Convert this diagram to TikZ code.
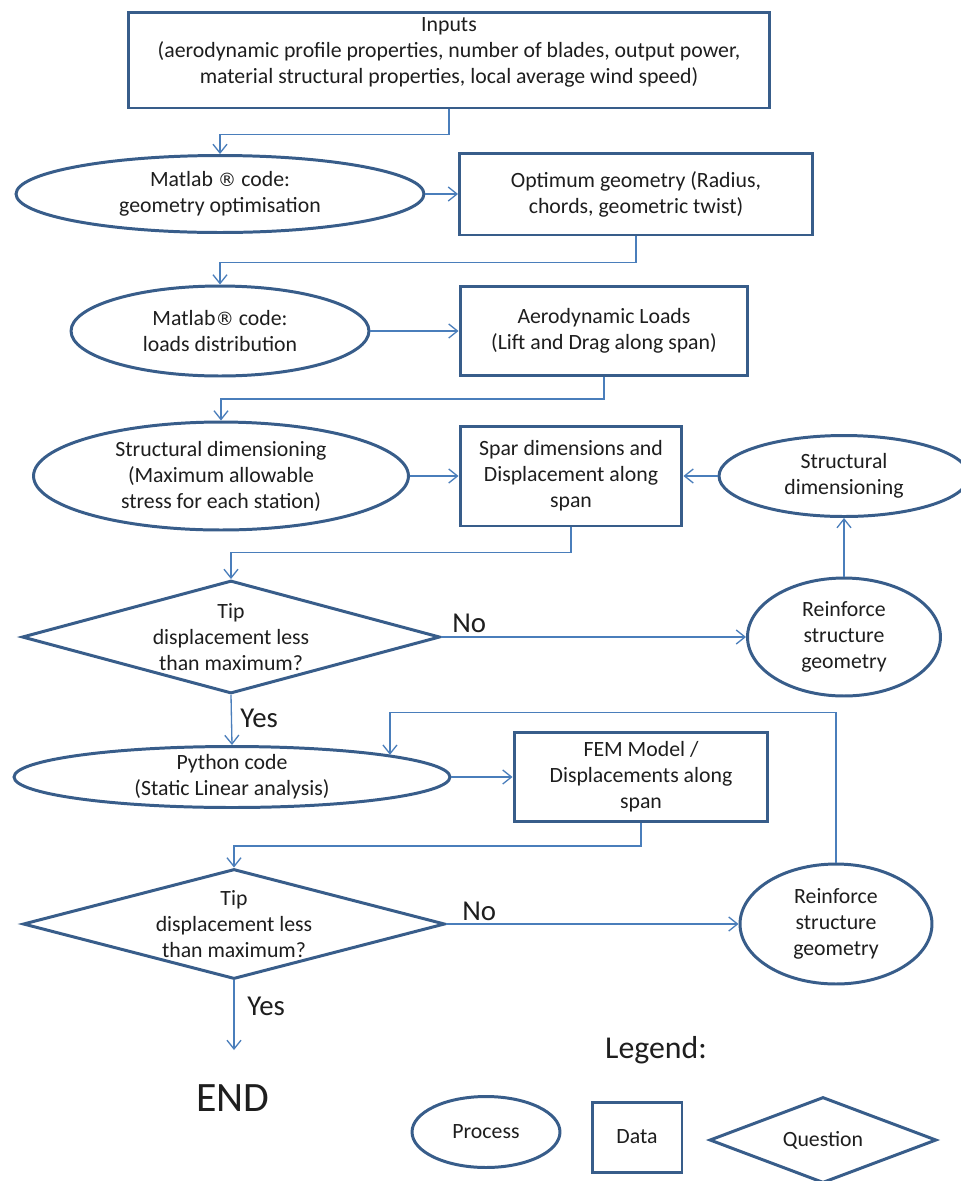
\documentclass[tikz,border=0pt]{standalone}
\usepackage{fontspec}
\setmainfont{Carlito}
\newfontfamily\symbfont{DejaVu Sans}
\usetikzlibrary{shapes.geometric,arrows.meta}
\definecolor{bordure}{HTML}{385D8A}
\definecolor{fleche}{HTML}{4A7EBB}
\definecolor{texte}{HTML}{1E1E1E}
\newcommand{\marque}{{\symbfont\fontsize{10.5}{14.8}\selectfont ®}}
\tikzset{
  boite/.style={draw=bordure,line width=1.7pt,text=texte,align=center,inner sep=0pt,
    font=\fontsize{12.4}{14.8}\selectfont},
  process/.style={boite,ellipse},
  data/.style={boite,rectangle},
  question/.style={boite,diamond,aspect=3.7,inner ysep=-3pt},
  flow/.style={draw=fleche,line width=0.75pt,-{Straight Barb[length=5pt,width=8pt]}},
  answer/.style={text=texte,inner sep=0pt,font=\fontsize{16.4}{18}\selectfont}
}

\begin{document}
\begin{tikzpicture}[x=0.02cm,y=-0.02cm]
   \fill[white] (0,0) rectangle (961,1181);
   \useasboundingbox (0,0) rectangle (961,1181);
   % colonne de gauche
   \node[data,minimum width=12.84cm,minimum height=1.92cm,text depth=11pt] (inputs) at (449,60)
     {Inputs\\(aerodynamic profile properties, number of blades, output power,\\material structural properties, local average wind speed)};
   \node[process,minimum width=8.16cm,minimum height=1.54cm] (geomopt) at (220,194)
     {Matlab \marque{} code:\\geometry optimisation};
   \node[process,minimum width=5.96cm,minimum height=1.80cm] (loadsdist) at (220,331)
     {Matlab\marque{} code:\\loads distribution};
   \node[process,minimum width=7.50cm,minimum height=2.16cm] (structdim) at (221,476)
     {Structural dimensioning\\(Maximum allowable\\stress for each station)};
   \node[question,minimum width=8.36cm,minimum height=2.26cm] (tipa) at (231,637)
     {Tip\\displacement less\\than maximum?};
   \node[process,minimum width=8.72cm,minimum height=1.22cm,inner ysep=-2pt] (python) at (232,777)
     {Python code\\(Static Linear analysis)};
   \node[question,minimum width=8.44cm,minimum height=2.20cm] (tipb) at (234,924)
     {Tip\\displacement less\\than maximum?};
   \coordinate (fin) at (234,1050);
   \node[text=texte,font=\fontsize{23.8}{26}\selectfont] (end) at (233,1098) {END};
   % colonne de droite
   \node[data,minimum width=7.06cm,minimum height=1.64cm] (optgeom) at (636,194)
     {Optimum geometry (Radius,\\chords, geometric twist)};
   \node[data,minimum width=5.76cm,minimum height=1.78cm] (aeroloads) at (604,331)
     {Aerodynamic Loads\\(Lift and Drag along span)};
   \node[data,minimum width=4.44cm,minimum height=2.00cm] (spar) at (571,476)
     {Spar dimensions and\\Displacement along\\span};
   \node[process,minimum width=5.00cm,minimum height=1.62cm] (structdimb) at (844,476)
     {Structural\\dimensioning};
   \node[process,minimum width=3.86cm,minimum height=2.36cm] (reinfa) at (844,637)
     {Reinforce\\structure\\geometry};
   \node[data,minimum width=5.08cm,minimum height=1.78cm] (fem) at (641,777)
     {FEM Model /\\Displacements along\\span};
   \node[process,minimum width=3.84cm,minimum height=2.40cm] (reinfb) at (836,924)
     {Reinforce\\structure\\geometry};
   % reponses
   \node[answer,anchor=west] (noa) at (452,623) {No};
   \node[answer,anchor=west] (yesa) at (240,718) {Yes};
   \node[answer,anchor=west] (nob) at (462,911) {No};
   \node[answer,anchor=west] (yesb) at (247,1006) {Yes};
   % legende
   \node[text=texte,font=\fontsize{18.1}{20}\selectfont] (legend) at (656,1050) {Legend:};
   \node[process,minimum width=2.96cm,minimum height=1.42cm] (legprocess) at (486,1132) {Process};
   \node[data,minimum width=1.80cm,minimum height=1.40cm] (legdata) at (637,1137) {Data};
   \node[question,minimum width=4.54cm,minimum height=1.72cm] (legquestion) at (823,1140) {Question};
   % connecteurs
   \draw[flow] (inputs.south) -- ++(0,25) -| (geomopt.north);
   \draw[flow] (geomopt.east) -- (optgeom.west);
   \draw[flow] (optgeom.south) -- ++(0,26) -| (loadsdist.north);
   \draw[flow] (loadsdist.east) -- (aeroloads.west);
   \draw[flow] (aeroloads.south) -- ++(0,22) -| (structdim.north);
   \draw[flow] (structdim.east) -- (spar.west);
   \draw[flow] (structdimb.west) -- (spar.east);
   \draw[flow] (spar.south) -- ++(0,25) -| (tipa.north);
   \draw[flow] (tipa.east) -- (reinfa.west);
   \draw[flow] (reinfa.north) -- (structdimb.south);
   \draw[flow] (tipa.south) -- (python.north);
   \draw[flow] (python.east) -- (fem.west);
   \draw[flow] (fem.south) -- ++(0,23) -| (tipb.north);
   \draw[flow] (tipb.east) -- (reinfb.west);
   \draw[flow] (reinfb.north) |- ([yshift=0.84cm]python.8) -- (python.8);  % retour vers Python
   \draw[flow] (tipb.south) -- (fin);
\end{tikzpicture}
\end{document}
